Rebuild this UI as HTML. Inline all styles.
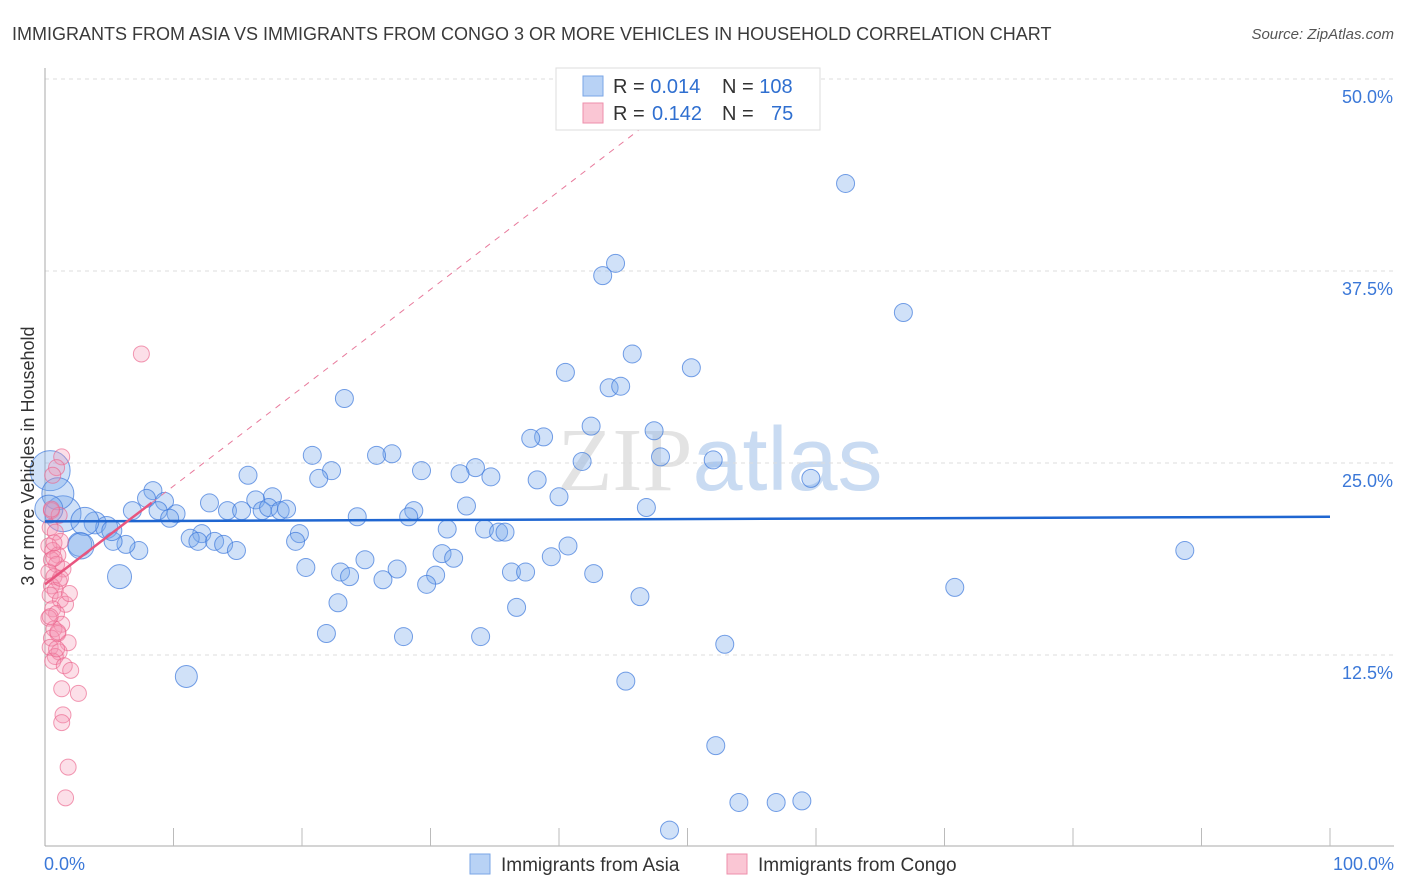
<!DOCTYPE html>
<html><head><meta charset="utf-8"><style>
body{margin:0;background:#fff;font-family:"Liberation Sans",sans-serif}
svg{display:block}
</style></head><body>
<svg id="chart" width="1406" height="892">
<text x="12" y="40" font-size="18" fill="#3a3a3a">IMMIGRANTS FROM ASIA VS IMMIGRANTS FROM CONGO 3 OR MORE VEHICLES IN HOUSEHOLD CORRELATION CHART</text>
<text x="1394" y="39" font-size="15" fill="#555" font-style="italic" text-anchor="end">Source: ZipAtlas.com</text>
<text x="720" y="490" font-size="90" fill="#e3e3e3" text-anchor="middle" font-family="Liberation Serif,serif">ZIP<tspan fill="#c9dbf2" font-family="Liberation Sans,sans-serif">atlas</tspan></text>
<g id="grid"></g><g id="marks"></g>
<text transform="translate(34,456) rotate(-90)" font-size="18" fill="#333" text-anchor="middle">3 or more Vehicles in Household</text>
<g>
<rect x="556" y="68" width="264" height="62" fill="#fff" stroke="#ddd"/>
<rect x="583" y="76" width="20" height="20" fill="#b8d2f5" stroke="#7aa6e6"/>
<rect x="583" y="103" width="20" height="20" fill="#fac6d4" stroke="#ee8fab"/>
<text x="613" y="93" font-size="20" fill="#333">R = <tspan fill="#2f6fd0">0.014</tspan>  <tspan x="722">N = </tspan><tspan fill="#2f6fd0">108</tspan></text>
<text x="613" y="120" font-size="20" fill="#333">R = <tspan x="652" fill="#2f6fd0">0.142</tspan><tspan x="722">N = </tspan><tspan x="771" fill="#2f6fd0">75</tspan></text>
</g>
<g>
<rect x="470" y="854" width="20" height="20" fill="#b8d2f5" stroke="#7aa6e6"/>
<text x="501" y="871" font-size="19" fill="#333">Immigrants from Asia</text>
<rect x="727" y="854" width="20" height="20" fill="#fac6d4" stroke="#ee8fab"/>
<text x="758" y="871" font-size="19" fill="#333">Immigrants from Congo</text>
</g>
</svg>
<script>
const yTicks=[12.5,25,37.5,50];
const yTickLabels=["12.5%","25.0%","37.5%","50.0%"];
const xTickLabels=["0.0%","100.0%"];
const asiaX=[62.3,44.4,43.4,66.8,45.7,50.3,40.5,43.9,44.8,23.3,42.5,47.4,38.8,37.8,27.0,25.8,20.8,47.9,52.0,41.8,33.5,29.3,32.3,22.3,15.8,21.3,34.7,38.3,59.6,8.4,7.9,9.3,17.7,16.4,12.8,40.0,6.8,8.8,14.2,15.3,16.9,17.4,18.3,18.8,32.8,28.7,46.8,24.3,28.3,10.2,9.7,3.9,4.8,31.3,34.2,35.3,35.8,12.2,11.3,19.8,11.9,13.2,13.9,19.5,14.9,7.3,6.3,5.3,2.7,40.7,30.9,31.8,39.4,24.9,20.3,27.4,23.0,30.4,36.3,37.4,23.7,26.3,42.7,29.7,5.8,88.7,70.8,46.3,22.8,36.7,21.9,27.9,33.9,52.9,11.0,45.2,52.2,54.0,56.9,58.9,48.6,0.4,1.4,3.1,2.8,1.0,0.3,5.2];
const asiaY=[43.2,38.0,37.2,34.8,32.1,31.2,30.9,29.9,30.0,29.2,27.4,27.1,26.7,26.6,25.6,25.5,25.5,25.4,25.2,25.1,24.7,24.5,24.3,24.5,24.2,24.0,24.1,23.9,24.0,23.2,22.7,22.5,22.8,22.6,22.4,22.8,21.9,21.9,21.9,21.9,21.9,22.1,21.9,22.0,22.2,21.9,22.1,21.5,21.5,21.7,21.4,21.1,20.8,20.7,20.7,20.5,20.5,20.4,20.1,20.4,19.9,19.9,19.7,19.9,19.3,19.3,19.7,19.9,19.7,19.6,19.1,18.8,18.9,18.7,18.2,18.1,17.9,17.7,17.9,17.9,17.6,17.4,17.8,17.1,17.6,19.3,16.9,16.3,15.9,15.6,13.9,13.7,13.7,13.2,11.1,10.8,6.6,2.9,2.9,3.0,1.1,24.5,21.7,21.2,19.6,23.0,22.0,20.6];
const asiaR=[9,9,9,9,9,9,9,9,9,9,9,9,9,9,9,9,9,9,9,9,9,9,9,9,9,9,9,9,9,9,9,9,9,9,9,9,9,9,9,9,9,9,9,9,9,9,9,9,9,9,9,11,11,9,9,9,9,9,9,9,9,9,9,9,9,9,9,9,12,9,9,9,9,9,9,9,9,9,9,9,9,9,9,9,12,9,9,9,9,9,9,9,9,9,11,9,9,9,9,9,9,20,18,14,13,16,14,10];
const congoX=[7.5,1.3,0.9,0.6,0.5,1.1,0.4,0.8,1.2,0.3,0.6,1.0,0.5,0.9,1.4,0.3,0.7,1.1,0.5,0.8,0.4,1.2,1.6,0.6,0.9,0.3,1.3,0.7,1.0,0.5,1.8,0.4,1.1,0.8,0.6,1.5,0.9,0.4,1.2,0.7,2.0,1.3,2.6,1.4,1.3,1.8,1.6,0.5,1.9,0.7,1.0];
const congoY=[32.1,25.4,24.7,24.2,21.9,21.6,20.8,20.5,19.9,19.6,19.3,19.0,18.7,18.4,18.1,17.9,17.6,17.3,17.0,16.7,16.4,16.1,15.8,15.5,15.2,14.9,14.5,14.2,13.9,13.6,13.3,13.0,12.7,12.4,12.1,11.8,12.9,15.0,17.5,19.8,11.5,10.3,10.0,8.6,8.1,5.2,3.2,22.0,16.5,18.8,14.0];
const asiaTrend=[21.2,21.5];
const congoTrend=[17.1,0.64];
const NS="http://www.w3.org/2000/svg";
const X=v=>45+12.85*v, Y=v=>847-15.36*v;
function mk(t,a,p){const e=document.createElementNS(NS,t);for(const k in a)e.setAttribute(k,a[k]);p.appendChild(e);return e;}
const grid=document.getElementById('grid'),marks=document.getElementById('marks');
yTicks.forEach((t,i)=>{
 const l=mk('line',{x1:45,x2:1394,y1:Y(t),y2:Y(t),stroke:'#ddd','stroke-dasharray':'4,4'},grid);
 
 
 const tx=mk('text',{x:1393,y:Y(t)+24,'font-size':18,fill:'#3b78d8','text-anchor':'end'},grid);
 tx.textContent=yTickLabels[i];
 
 
});
let ax=mk('line',{x1:45,x2:45,y1:68,y2:846,stroke:'#aaa'},grid);


ax=mk('line',{x1:45,x2:1394,y1:846,y2:846,stroke:'#aaa'},grid);


for(let i=1;i<=10;i++){const t=mk('line',{x1:X(i*10),x2:X(i*10),y1:828,y2:846,stroke:'#bbb'},grid);
 
 }
[[0,'start',44],[100,'end',1394]].forEach((d,i)=>{const t=mk('text',{x:d[2],y:870,'font-size':18,fill:'#3b78d8','text-anchor':d[1]},grid);t.textContent=xTickLabels[i];
 
 });
asiaX.forEach((v,i)=>{const c=mk('circle',{cx:X(v),cy:Y(asiaY[i]),r:asiaR[i],fill:'rgba(120,168,235,0.35)',stroke:'rgba(60,120,220,0.7)','stroke-width':1},marks);
 
 });
congoX.forEach((v,i)=>{const c=mk('circle',{cx:X(v),cy:Y(congoY[i]),r:8,fill:'rgba(245,150,180,0.3)',stroke:'rgba(235,100,140,0.65)','stroke-width':1},marks);
 
 });
let tl=mk('line',{x1:X(0),y1:Y(asiaTrend[0]),x2:X(100),y2:Y(asiaTrend[1]),stroke:'#1f66d1','stroke-width':2.5},marks);


const cy=x=>congoTrend[0]+congoTrend[1]*x;
tl=mk('line',{x1:X(8.3),y1:Y(cy(8.3)),x2:X(46.3),y2:Y(cy(46.3)),stroke:'#e87a9c','stroke-width':1,'stroke-dasharray':'6,6'},marks);


tl=mk('line',{x1:X(0),y1:Y(cy(0)),x2:X(8.3),y2:Y(cy(8.3)),stroke:'#e8557f','stroke-width':2.5},marks);


</script>
</body></html>
